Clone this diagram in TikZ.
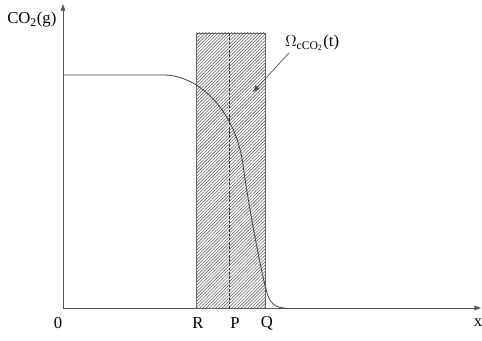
\documentclass[tikz,border=0pt]{standalone}
\usepackage{fontspec}
\setmainfont{Liberation Serif}
\usetikzlibrary{patterns.meta,arrows.meta}
\begin{document}
\begin{tikzpicture}[x=0.75pt,y=-0.75pt,
  axis/.style={draw=black!65,line width=0.6pt},
  lbl/.style={font=\fontsize{12.5pt}{14pt}\selectfont,inner sep=0pt},
  tip/.style={-{Triangle[length=5pt,width=3.5pt]}}]
\useasboundingbox (0,0) rectangle (482,341);
% hatched region
\path[pattern={Lines[angle=45,distance=1.7pt,line width=0.45pt]},pattern color=black!60] (196,33) rectangle (265,308);
\draw[black!60,line width=0.6pt] (196,33) rectangle (265,308);
\coordinate (ptop) at (229,33);
\coordinate (pbot) at (229,308);
\draw[black!80,line width=0.5pt,dash pattern=on 2pt off 1.2pt] (ptop) -- (pbot);
% axes
\coordinate (o) at (63,308);
\coordinate (ytip) at (63,4);
\coordinate (xtip) at (481,308);
\draw[axis,tip] (o) -- (ytip);
\draw[axis,tip] (o) -- (xtip);
% curve
\draw[black!75,line width=0.6pt] (63,75) -- (165,75)
  .. controls (200,76) and (236,112) .. (243,165)
  .. controls (248,203) and (263,283) .. (268,296)
  .. controls (271,304) and (276,308) .. (285,308);
% labels
\node[lbl,anchor=base west] (ylab) at (7,24) {CO\textsubscript{2}(g)};
\node[lbl] (zero) at (58,323) {0};
\node[lbl] (R) at (198,323) {R};
\node[lbl] (P) at (235,323) {P};
\node[lbl] (Q) at (267,323) {Q};
\node[lbl] (xl) at (478,323) {x};
\node[lbl,anchor=base west] (om) at (285,47) {$\Omega$\textsubscript{cCO\textsubscript{2}}(t)};
\coordinate (atip) at (253,92);
\draw[black!70,line width=0.5pt,tip] (289,53) -- (atip);
\end{tikzpicture}
\end{document}
